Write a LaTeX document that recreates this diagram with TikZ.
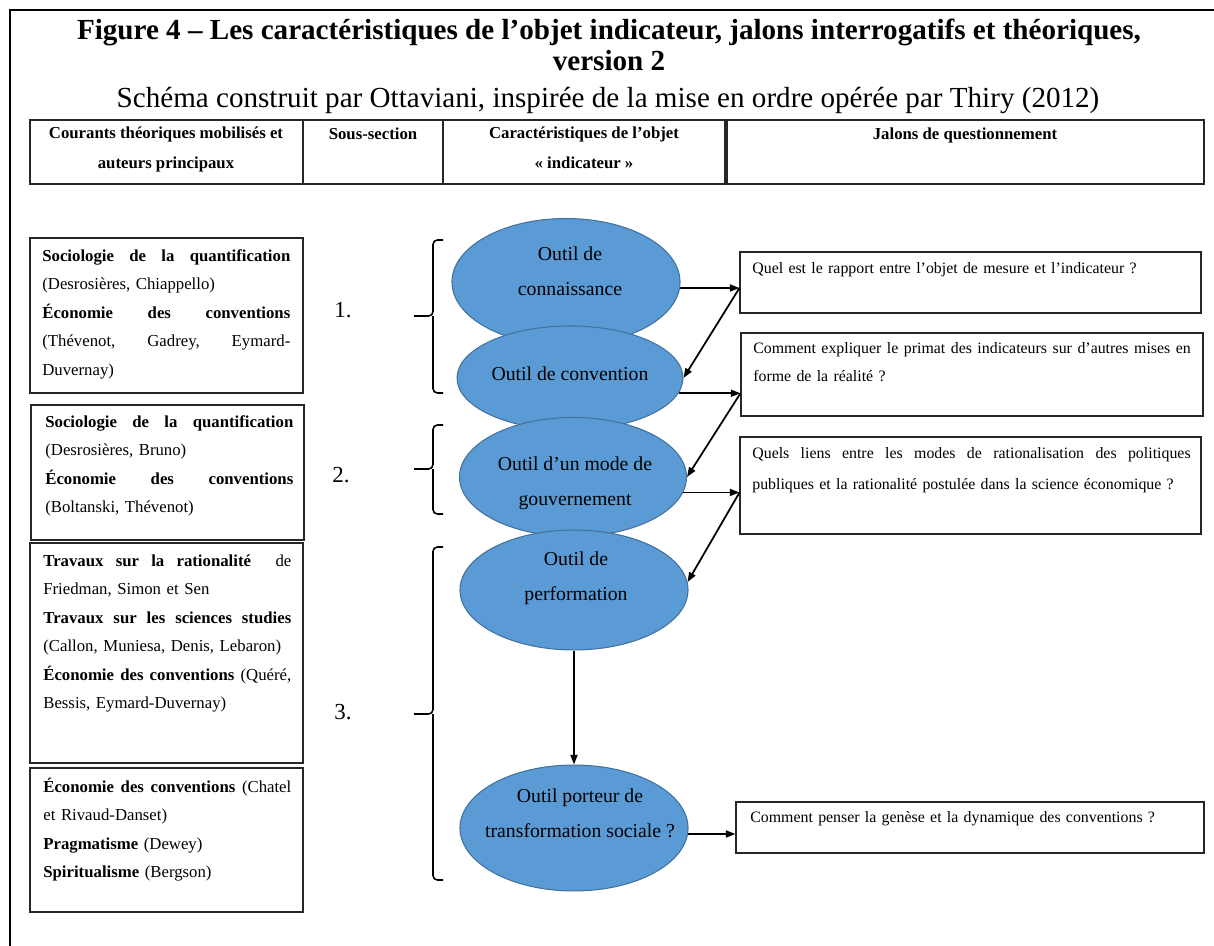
\documentclass[tikz,border=0pt]{standalone}
\usepackage{fontspec}
\setmainfont{Liberation Serif}
\usetikzlibrary{arrows.meta,positioning,shapes.geometric,fit}
\definecolor{toolblue}{RGB}{91,155,213}
\definecolor{tooledge}{RGB}{65,113,156}
\setlength{\parindent}{0pt}
\newcommand{\fullline}[2][140.6pt]{\makebox[#1][s]{\spaceskip=0pt\xspaceskip=0pt #2}}

\begin{document}
\begin{tikzpicture}[x=0.567pt, y=-0.567pt, >={Triangle[length=5.5pt,width=4pt]},
    cell/.style={draw=black!85, line width=0.6pt, inner sep=0pt},
    headtext/.style={anchor=base, align=center, inner sep=0pt, font=\fontsize{9.5}{16.5}\selectfont\bfseries},
    theorytext/.style={anchor=base west, text width=140.6pt, align=left, inner sep=0pt, font=\fontsize{9.5}{16.2}\selectfont},
    questtext/.style={anchor=base west, text width=250pt, align=left, inner sep=0pt, font=\fontsize{9}{16.4}\selectfont},
    tool/.style={ellipse, draw=tooledge, fill=toolblue, line width=0.6pt, inner sep=0pt},
    tooltext/.style={anchor=base, align=center, inner sep=0pt, font=\fontsize{11.2}{19.6}\selectfont},
    num/.style={anchor=base, inner sep=0pt, font=\fontsize{13}{13}\selectfont},
    bracket/.style={line width=0.9pt, rounded corners=2.5pt},
    link/.style={->, line width=1pt}]
    \useasboundingbox (0,0) rectangle (1214,946);
    % Frame and title
    \draw[line width=1.4pt] (10,946) -- (10,10) -- (1214,10);
    \node[anchor=base, font=\fontsize{16.5}{18}\selectfont\bfseries] (title) at (609,39) {Figure 4 – Les caractéristiques de l’objet indicateur, jalons interrogatifs et théoriques,};
    \node[anchor=base, font=\fontsize{16.5}{18}\selectfont\bfseries] (titleb) at (609,70) {version 2};
    \node[anchor=base, font=\fontsize{16.5}{20}\selectfont] (subtitle) at (608,107) {Schéma construit par Ottaviani, inspirée de la mise en ordre opérée par Thiry (2012)};
    % Header row
    \node[cell, fit={(30,120) (303,184)}] (hdcourants) {};
    \node[cell, fit={(303,120) (443,184)}] (hdsous) {};
    \node[cell, fit={(443,120) (725,184)}] (hdcarac) {};
    \node[cell, fit={(727,120) (1204,184)}] (hdjalons) {};
    \node[headtext] (txcourants) at (166,168) {Courants théoriques mobilisés et\\auteurs principaux};
    \node[headtext] (txsous) at (373,139) {Sous-section};
    \node[headtext] (txcarac) at (584,168) {Caractéristiques de l’objet\\«~indicateur~»};
    \node[headtext] (txjalons) at (965,139) {Jalons de questionnement};
    % Theories (left column)
    \node[cell, fit={(30,238) (303,393)}] (thquant) {};
    \node[cell, fit={(31,405) (304,540)}] (thquantb) {};
    \node[cell, fit={(30,543) (303,763)}] (thratio) {};
    \node[cell, fit={(30,768) (303,912)}] (thconv) {};
    \node[theorytext] (txquant) at (42,261) {\fullline{\textbf{Sociologie de la quantification}}\\(Desrosières, Chiappello)\\\fullline{\textbf{Économie des conventions}}\\\fullline{(Thévenot, Gadrey, Eymard-}\\Duvernay)};
    \node[theorytext] (txquantb) at (45,427) {\fullline{\textbf{Sociologie de la quantification}}\\(Desrosières, Bruno)\\\fullline{\textbf{Économie des conventions}}\\(Boltanski, Thévenot)};
    \node[theorytext] (txratio) at (43,566) {\fullline{\textbf{Travaux sur la rationalité}\ \ de}\\Friedman, Simon et Sen\\\fullline{\textbf{Travaux sur les sciences studies}}\\(Callon, Muniesa, Denis, Lebaron)\\\fullline{\textbf{Économie des conventions} (Quéré,}\\Bessis, Eymard-Duvernay)};
    \node[theorytext] (txconv) at (43,792) {\fullline{\textbf{Économie des conventions} (Chatel}\\et Rivaud-Danset)\\\textbf{Pragmatisme} (Dewey)\\\textbf{Spiritualisme} (Bergson)};
    % Sub-sections and brackets
    \node[num] (num1) at (343,317) {1.};
    \node[num] (num2) at (341,482) {2.};
    \node[num] (num3) at (343,719) {3.};
    \foreach \ya/\ym/\yb in {240/316/393, 425/469/514, 547/714/880}
        \draw[bracket] (443,\ya) -- (433,\ya) -- (433,\ym) -- (414,\ym) (433,\ym) -- (433,\yb) -- (443,\yb);
    % Characteristics of the indicator (ellipses)
    \node[tool, minimum width=129.3pt, minimum height=72pt] (toolconn) at (566,282) {};
    \node[tool, minimum width=128.1pt, minimum height=59pt] (toolconv) at (570,378) {};
    \node[tool, minimum width=128.7pt, minimum height=67.5pt] (toolgouv) at (573,477) {};
    \node[tool, minimum width=129.3pt, minimum height=68pt] (toolperf) at (574,590) {};
    \node[tool, minimum width=129.3pt, minimum height=71.4pt] (tooltrans) at (574,828) {};
    \node[tooltext] (txconn) at (570,295) {Outil de\\connaissance};
    \node[tooltext] (txconv) at (570,380) {Outil de convention};
    \node[tooltext] (txgouv) at (575,505) {Outil d’un mode de\\gouvernement};
    \node[tooltext] (txperf) at (576,600) {Outil de\\performation};
    \node[tooltext] (txtrans) at (580,837) {Outil porteur de\\transformation sociale~?};
    % Questions (right column)
    \node[cell, fit={(740,252) (1201,313)}] (qrapport) {};
    \node[cell, fit={(741,333) (1203,416)}] (qprimat) {};
    \node[cell, fit={(740,437) (1201,534)}] (qliens) {};
    \node[cell, fit={(736,802) (1204,853)}] (qgenese) {};
    \node[questtext] (txrapport) at (752,273) {Quel est le rapport entre l’objet de mesure et l’indicateur~?};
    \node[questtext] (txprimat) at (753,353) {\fullline[248pt]{Comment expliquer le primat des indicateurs sur d’autres mises en}\\forme de la réalité~?};
    \node[questtext, font=\fontsize{9}{18.1}\selectfont] (txliens) at (752,458) {\fullline[248.5pt]{Quels liens entre les modes de rationalisation des politiques}\\publiques et la rationalité postulée dans la science économique~?};
    \node[questtext] (txgenese) at (750,822) {Comment penser la genèse et la dynamique des conventions~?};
    % Arrows
    \draw[link] (toolconn.-3) -- (toolconn.-3 -| qrapport.west);
    \draw[link] (toolconn.-3 -| qrapport.west) -- (toolconv.east);
    \draw[link] (toolconv.-8) -- (toolconv.-8 -| qprimat.west);
    \draw[link] (toolconv.-8 -| qprimat.west) -- (toolgouv.east);
    \draw[link] (toolgouv.-8) -- (toolgouv.-8 -| qliens.west);
    \draw[link] (toolgouv.-8 -| qliens.west) -- (toolperf.4);
    \draw[link] (toolperf.south) -- (tooltrans.north);
    \draw[link] (tooltrans.-3) -- (tooltrans.-3 -| qgenese.west);
\end{tikzpicture}
\end{document}
